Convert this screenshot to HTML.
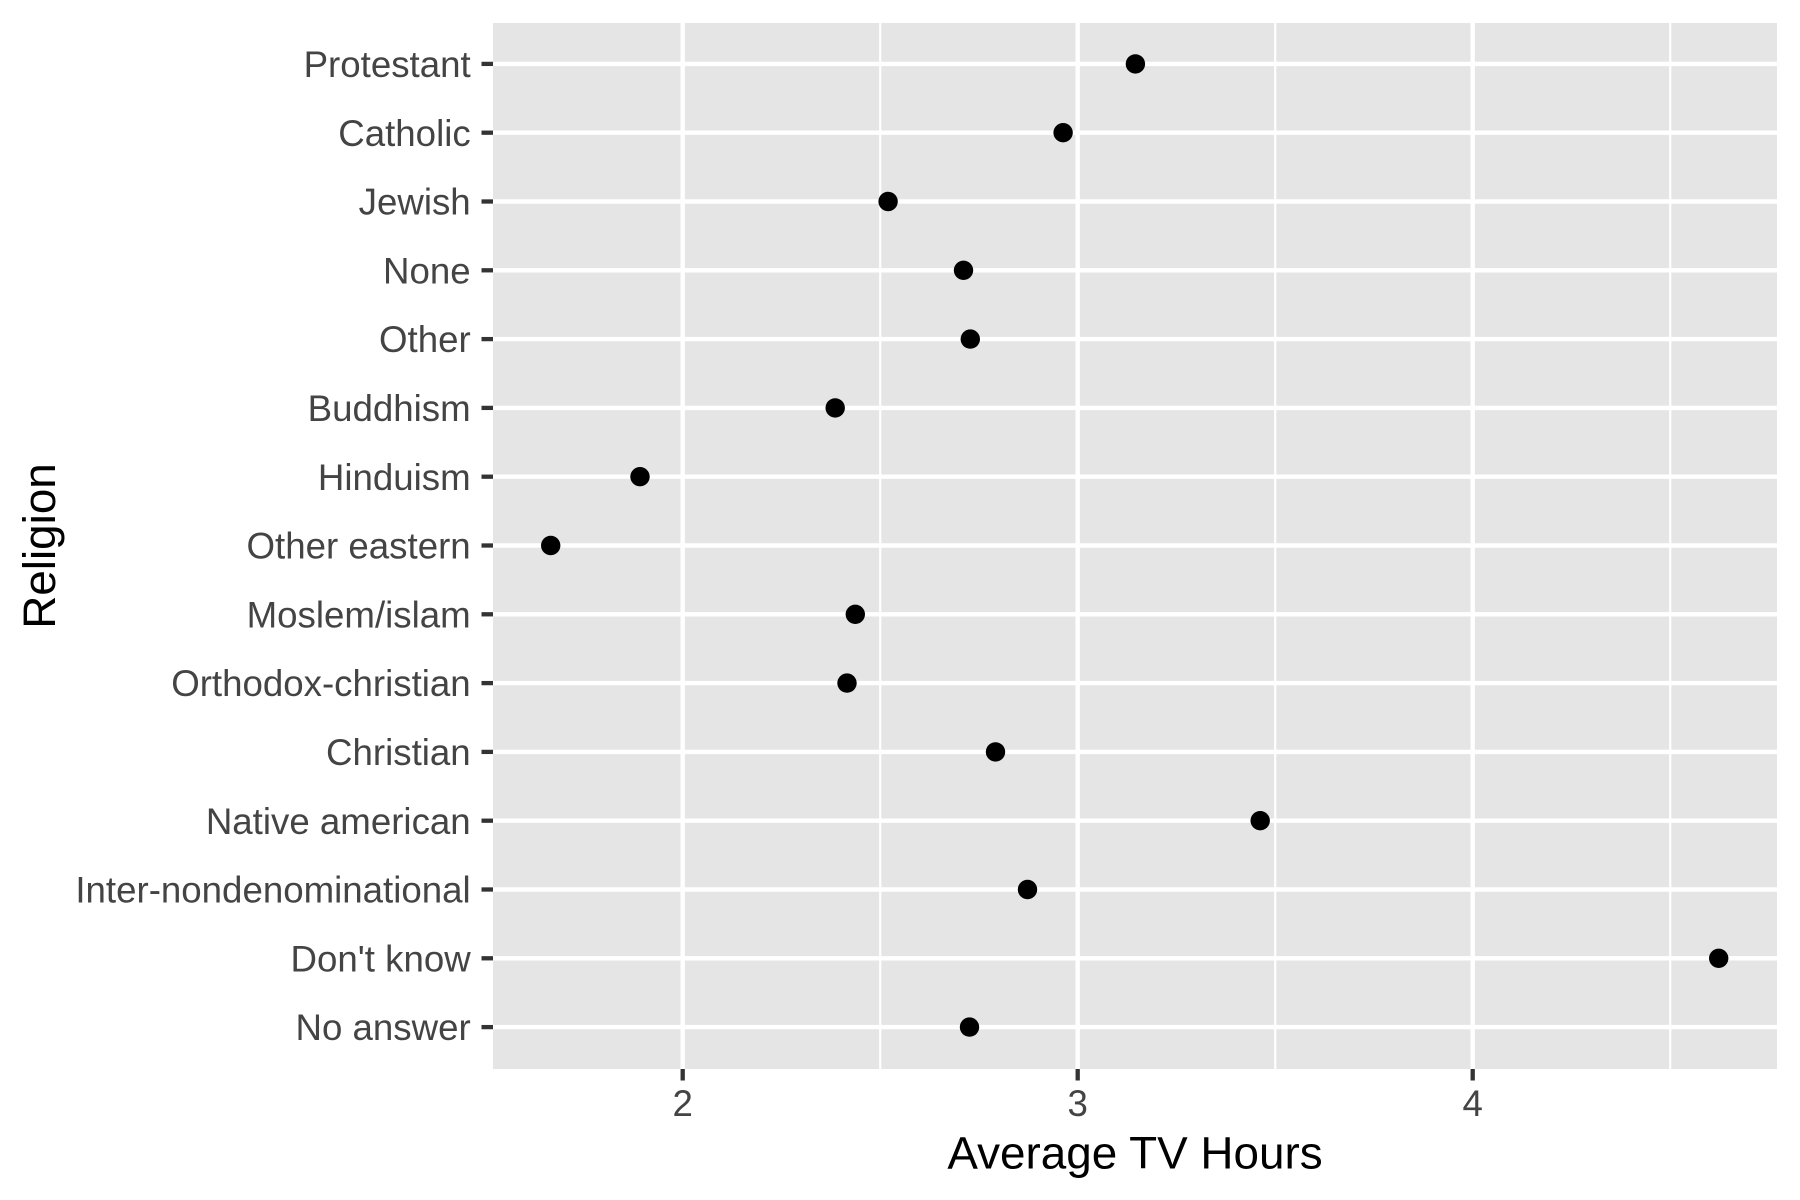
<!DOCTYPE html>
<html>
<head>
<meta charset="utf-8">
<style>
  html, body { margin: 0; padding: 0; background: #ffffff; }
  svg { display: block; }
  text { font-family: "Liberation Sans", Arial, sans-serif; }
</style>
</head>
<body>
<svg width="1800" height="1200" viewBox="0 0 1800 1200" xmlns="http://www.w3.org/2000/svg">
  <rect x="0" y="0" width="1800" height="1200" fill="#ffffff"/>
  <!-- panel -->
  <rect x="493" y="23" width="1284" height="1046" fill="#E5E5E5"/>
  <!-- minor vertical grid -->
  <g stroke="#ffffff" stroke-width="2.2">
    <line x1="880.2" y1="23" x2="880.2" y2="1069"/>
    <line x1="1275.2" y1="23" x2="1275.2" y2="1069"/>
    <line x1="1670.2" y1="23" x2="1670.2" y2="1069"/>
  </g>
  <!-- major grid -->
  <g stroke="#ffffff" stroke-width="4.4">
    <line x1="682.7" y1="23" x2="682.7" y2="1069"/>
    <line x1="1077.7" y1="23" x2="1077.7" y2="1069"/>
    <line x1="1472.7" y1="23" x2="1472.7" y2="1069"/>
    <line x1="493" y1="63.9" x2="1777" y2="63.9"/>
    <line x1="493" y1="132.7" x2="1777" y2="132.7"/>
    <line x1="493" y1="201.5" x2="1777" y2="201.5"/>
    <line x1="493" y1="270.3" x2="1777" y2="270.3"/>
    <line x1="493" y1="339.1" x2="1777" y2="339.1"/>
    <line x1="493" y1="407.9" x2="1777" y2="407.9"/>
    <line x1="493" y1="476.7" x2="1777" y2="476.7"/>
    <line x1="493" y1="545.5" x2="1777" y2="545.5"/>
    <line x1="493" y1="614.3" x2="1777" y2="614.3"/>
    <line x1="493" y1="683.1" x2="1777" y2="683.1"/>
    <line x1="493" y1="751.9" x2="1777" y2="751.9"/>
    <line x1="493" y1="820.7" x2="1777" y2="820.7"/>
    <line x1="493" y1="889.5" x2="1777" y2="889.5"/>
    <line x1="493" y1="958.3" x2="1777" y2="958.3"/>
    <line x1="493" y1="1027.1" x2="1777" y2="1027.1"/>
  </g>
  <!-- points -->
  <g fill="#000000">
    <circle cx="1135.4" cy="63.9" r="9.7"/>
    <circle cx="1063.1" cy="132.7" r="9.7"/>
    <circle cx="888.1" cy="201.5" r="9.7"/>
    <circle cx="963.5" cy="270.3" r="9.7"/>
    <circle cx="970.3" cy="339.1" r="9.7"/>
    <circle cx="835.2" cy="407.9" r="9.7"/>
    <circle cx="640.0" cy="476.7" r="9.7"/>
    <circle cx="550.7" cy="545.5" r="9.7"/>
    <circle cx="855.3" cy="614.3" r="9.7"/>
    <circle cx="847.0" cy="683.1" r="9.7"/>
    <circle cx="995.5" cy="751.9" r="9.7"/>
    <circle cx="1260.2" cy="820.7" r="9.7"/>
    <circle cx="1027.5" cy="889.5" r="9.7"/>
    <circle cx="1718.7" cy="958.3" r="9.7"/>
    <circle cx="969.5" cy="1027.1" r="9.7"/>
  </g>
  <!-- y ticks -->
  <g stroke="#333333" stroke-width="4.3">
    <line x1="481.5" y1="63.9" x2="493" y2="63.9"/>
    <line x1="481.5" y1="132.7" x2="493" y2="132.7"/>
    <line x1="481.5" y1="201.5" x2="493" y2="201.5"/>
    <line x1="481.5" y1="270.3" x2="493" y2="270.3"/>
    <line x1="481.5" y1="339.1" x2="493" y2="339.1"/>
    <line x1="481.5" y1="407.9" x2="493" y2="407.9"/>
    <line x1="481.5" y1="476.7" x2="493" y2="476.7"/>
    <line x1="481.5" y1="545.5" x2="493" y2="545.5"/>
    <line x1="481.5" y1="614.3" x2="493" y2="614.3"/>
    <line x1="481.5" y1="683.1" x2="493" y2="683.1"/>
    <line x1="481.5" y1="751.9" x2="493" y2="751.9"/>
    <line x1="481.5" y1="820.7" x2="493" y2="820.7"/>
    <line x1="481.5" y1="889.5" x2="493" y2="889.5"/>
    <line x1="481.5" y1="958.3" x2="493" y2="958.3"/>
    <line x1="481.5" y1="1027.1" x2="493" y2="1027.1"/>
    <!-- x ticks -->
    <line x1="682.7" y1="1069" x2="682.7" y2="1080.5"/>
    <line x1="1077.7" y1="1069" x2="1077.7" y2="1080.5"/>
    <line x1="1472.7" y1="1069" x2="1472.7" y2="1080.5"/>
  </g>
  <!-- y labels -->
  <g fill="#444444" font-size="36.67" text-anchor="end">
    <text x="470.7" y="77">Protestant</text>
    <text x="470.7" y="145.8">Catholic</text>
    <text x="470.7" y="214.6">Jewish</text>
    <text x="470.7" y="283.4">None</text>
    <text x="470.7" y="352.2">Other</text>
    <text x="470.7" y="421">Buddhism</text>
    <text x="470.7" y="489.8">Hinduism</text>
    <text x="470.7" y="558.6">Other eastern</text>
    <text x="470.7" y="627.4">Moslem/islam</text>
    <text x="470.7" y="696.2">Orthodox-christian</text>
    <text x="470.7" y="765">Christian</text>
    <text x="470.7" y="833.8">Native american</text>
    <text x="470.7" y="902.6">Inter-nondenominational</text>
    <text x="470.7" y="971.4">Don't know</text>
    <text x="470.7" y="1040.2">No answer</text>
  </g>
  <!-- x labels -->
  <g fill="#444444" font-size="36.67" text-anchor="middle">
    <text x="682.7" y="1116">2</text>
    <text x="1077.7" y="1116">3</text>
    <text x="1472.7" y="1116">4</text>
  </g>
  <!-- axis titles -->
  <text x="1135" y="1168.5" font-size="45.83" fill="#000000" text-anchor="middle">Average TV Hours</text>
  <text x="0" y="0" font-size="45.83" fill="#000000" text-anchor="middle" transform="translate(55,546) rotate(-90)">Religion</text>
</svg>
</body>
</html>
